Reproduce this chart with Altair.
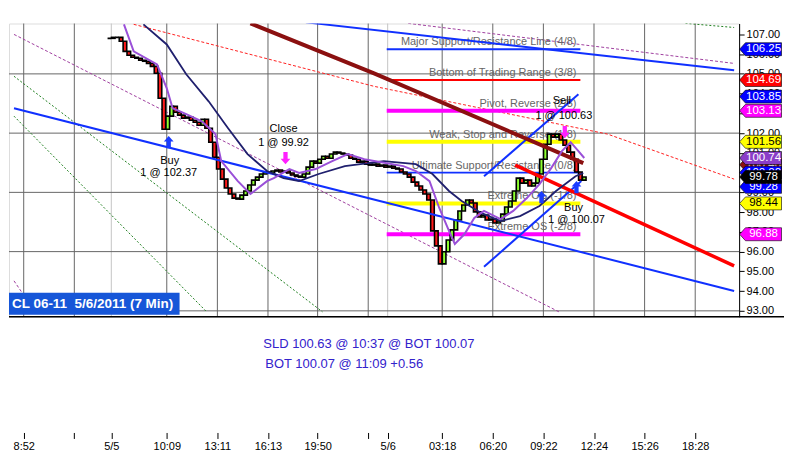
import pandas as pd
import altair as alt

# ---- price bars (7 min); bar index 24.5 is the first candle
first_bar = 24.5
closes = [
    106.80, 106.85, 106.85, 106.65, 106.14, 105.94, 105.84, 105.79, 105.69, 105.64,
    105.53, 105.38, 105.03, 103.77, 102.20, 102.86, 103.36, 103.06, 102.91, 102.76,
    102.81, 102.65, 102.55, 102.40, 102.70, 102.25, 101.54, 100.78, 100.18, 99.67,
    99.22, 98.92, 98.71, 98.66, 98.86, 99.07, 99.37, 99.62, 99.77, 99.93,
    100.03, 99.98, 100.08, 100.13, 100.03, 100.08, 99.98, 99.88, 99.82, 99.77,
    99.93, 100.28, 100.58, 100.48, 100.68, 100.83, 100.73, 100.94, 101.04, 100.99,
    100.94, 100.89, 100.73, 100.68, 100.53, 100.58, 100.43, 100.38, 100.43, 100.33,
    100.38, 100.28, 100.33, 100.23, 100.18, 100.03, 99.93, 99.77, 99.52, 99.32,
    99.12, 98.92, 98.61, 97.05, 96.29, 95.38, 95.99, 96.59, 97.10, 97.60,
    98.06, 98.36, 98.61, 98.46, 98.01, 97.75, 97.85, 97.60, 97.65, 97.45,
    97.55, 97.90, 98.26, 98.56, 99.07, 99.72, 99.47, 99.62, 99.32, 99.47,
    99.93, 100.68, 101.44, 101.95, 101.80, 101.95, 101.65, 101.39, 101.04, 100.68,
    100.03, 99.62, 99.78,
]
first_open = 106.80

# moving averages
navy_bars = [33.25, 39.25, 44.25, 50, 55, 60, 65, 69.25, 73.25, 78.25, 85, 95, 103.25,
             107.5, 111.75, 115, 120, 125, 130, 135, 139.25, 144.25, 146.25]
navy_prices = [107.51, 106.49, 104.98, 103.61, 102.25, 100.94, 100.08, 99.72, 99.57, 99.93,
               100.33, 100.58, 100.43, 99.93, 99.07, 98.56, 97.96, 97.55, 97.80, 98.31,
               99.07, 99.82, 99.98]
purple_bars = [28.25, 30.75, 36.75, 39.25, 40.75, 44.25, 48.25, 51.75, 53.25, 57.5, 60.75,
               65, 66.75, 70.75, 73.25, 77.5, 81.75, 85.75, 90, 100, 103.25, 106.75, 109.25,
               111.75, 113.25, 115.75, 118.25, 120.75, 125, 128.25, 131.75, 135, 138,
               140.75, 143, 145, 146.5]
purple_prices = [107.51, 106.14, 105.48, 104.27, 103.26, 102.96, 102.60, 101.95, 100.58, 99.57,
                 98.92, 99.57, 99.72, 100.18, 99.98, 100.18, 100.58, 100.94, 100.68, 100.33,
                 100.08, 99.57, 98.21, 97.05, 96.39, 96.89, 97.70, 98.06, 97.65, 98.06,
                 98.71, 99.42, 100.23, 101.09, 101.54, 101.09, 100.74]

# Murrey math levels
murrey_start, murrey_end = 95.75, 145.5
murrey_levels = [106.25, 104.69, 103.13, 101.56, 100.00, 98.44, 96.88]
murrey_names = ["Major Support/Resistance Line (4/8)", "Bottom of Trading Range (3/8)",
                "Pivot, Reverse (2/8)", "Weak, Stop and Reverse (1/8)",
                "Ultimate Support/Resistance (0/8)", "Extreme OS (-1/8)", "Extreme OS (-2/8)"]
murrey_colors = ["#1030ff", "#ff0000", "#ff00ff", "#ffff00", "#1030ff", "#ffff00", "#ff00ff"]
murrey_widths = [2, 2, 4, 4, 2, 4, 4]

# price tags on the right axis
tag_values = [106.25, 104.69, 103.85, 103.13, 101.56, 100.40, 100.74, 100.00, 99.28, 98.44, 96.88, 99.78]
tag_fills = ["#0000ff", "#ff0000", "#0000ff", "#ff00ff", "#ffff00", "#8b1010", "#8a3cc8",
             "#0000ff", "#0000ff", "#ffff00", "#ff00ff", "#000000"]
tag_text = ["white", "white", "white", "white", "black", "white", "white",
            "white", "white", "black", "white", "white"]

# x axis
tick_vals = [2.5, 15.5, 25, 39.25, 52.25, 65.25, 78, 91, 96, 110, 123, 136, 149, 162, 175]
tick_text = ["8:52", "", "5/5", "10:09", "13:11", "16:13", "19:50", "", "5/6",
             "03:18", "06:20", "09:22", "12:24", "15:26", "18:28"]
day_breaks = [25, 96]
price_grid = [93, 96, 99, 102, 105]

W, H = 732, 294

xscale = alt.Scale(domain=[0, 185], nice=False, zero=False)
yscale = alt.Scale(domain=[92.7, 107.55], nice=False, zero=False)
label_expr = ("[" + ",".join(f"'{t}'" for t in tick_text) + "][indexof(["
              + ",".join(str(v) for v in tick_vals) + "], datum.value)]")
xaxis = alt.Axis(values=tick_vals, labelExpr=label_expr, offset=116, domain=False, grid=False,
                 tickColor="black", tickSize=6, labelFontSize=11, labelFont="Liberation Sans",
                 labelColor="black", labelPadding=2, labelFlush=False, labelOverlap=False, title=None)
yaxis = alt.Axis(orient="right", values=list(range(93, 108)), format=".2f", grid=False,
                 labelFont="Liberation Sans", labelFontSize=11, labelColor="black",
                 tickColor="black", domainColor="black", tickSize=5, labelPadding=2, title=None)


def X(field="bar"):
    return alt.X(f"{field}:Q", scale=xscale, axis=xaxis)


def Y(field="price"):
    return alt.Y(f"{field}:Q", scale=yscale, axis=yaxis)


def line(bars, prices, color, width, dash=None):
    kw = dict(color=color, strokeWidth=width, clip=True)
    if dash:
        kw["strokeDash"] = dash
    df = pd.DataFrame({"bar": bars, "price": prices})
    return alt.Chart(df).mark_line(**kw).encode(x=X(), y=Y())


layers = []

# grid
vgrid = pd.DataFrame({"bar": tick_vals})
vgrid["col"] = ["#c4c4c4" if v in day_breaks else "#666666" for v in tick_vals]
layers.append(alt.Chart(vgrid).mark_rule(strokeWidth=1).encode(
    x=X(), y=alt.value(0), y2=alt.value(H), color=alt.Color("col:N", scale=None)))
layers.append(alt.Chart(pd.DataFrame({"price": price_grid})).mark_rule(color="#666666").encode(
    y=Y(), x=alt.value(0), x2=alt.value(W)))

# thin dashed trend lines
layers.append(line([0, 79.25], [104.88, 92.95], "#208020", 1, [2, 2]))
layers.append(line([0, 49.5], [102.86, 92.95], "#208020", 1, [2, 2]))
layers.append(line([172.5, 185], [107.56, 107.35], "#208020", 1, [2, 2]))
layers.append(line([0, 140], [107.0, 92.95], "#a040a0", 1, [3, 2]))
layers.append(line([101.25, 185], [107.56, 105.53], "#a040a0", 1, [3, 2]))
layers.append(line([0, 3.5], [94.52, 93.51], "#a040a0", 1, [3, 2]))
layers.append(line([30.75, 92.5, 152.5, 185], [107.51, 104.37, 101.95, 99.67], "#ff2020", 1, [3, 2]))

# Murrey levels and their names
for lvl, c, w in zip(murrey_levels, murrey_colors, murrey_widths):
    layers.append(line([murrey_start, murrey_end], [lvl, lvl], c, w))
mlab = pd.DataFrame({"bar": [144.5] * len(murrey_levels), "price": murrey_levels, "txt": murrey_names})
layers.append(alt.Chart(mlab).mark_text(align="right", baseline="bottom", dy=-2, fontSize=11,
                                        font="Liberation Sans", color="#666666").encode(
    x=X(), y=Y(), text="txt:N"))

# candles
opens = [first_open] + closes[:-1]
candles = pd.DataFrame({"bar": [first_bar + i for i in range(len(closes))],
                        "price": opens, "close": closes})
candles["col"] = ["#ff1a1a" if c < o else "#8cff30" for o, c in zip(opens, closes)]
layers.append(alt.Chart(candles).mark_bar(size=3.6, stroke="black", strokeWidth=1.6).encode(
    x=X(), y=Y(), y2=alt.Y2("close:Q"), fill=alt.Fill("col:N", scale=None)))

# thick trend lines and channel
layers.append(line([0, 185], [103.26, 94.01], "#1030ff", 2))
layers.append(line([75, 185], [107.61, 105.18], "#1030ff", 2))
layers.append(line([120.75, 145], [99.82, 103.97], "#1030ff", 2))
layers.append(line([120.75, 145.75], [95.23, 99.57], "#1030ff", 2))
layers.append(line([60.75, 92.5, 146.25], [107.56, 105.03, 100.48], "#8b1010", 4))
layers.append(line([128.75, 185], [100.38, 95.28], "#ff0000", 3.5))

# moving averages
layers.append(line(navy_bars, navy_prices, "#20206e", 1.8))
layers.append(line(purple_bars, purple_prices, "#9a50d8", 2))

# trade markers
up = "M 0 -1 L 0.8 -0.1 L 0.35 -0.1 L 0.35 1 L -0.35 1 L -0.35 -0.1 L -0.8 -0.1 Z"
down = "M 0 1 L 0.8 0.1 L 0.35 0.1 L 0.35 -1 L -0.35 -1 L -0.35 0.1 L -0.8 0.1 Z"
buys = pd.DataFrame({"bar": [39.75, 135.5, 144.5], "price": [101.54, 98.76, 99.27]})
sells = pd.DataFrame({"bar": [69.75, 141.5], "price": [100.73, 102.05]})
layers.append(alt.Chart(buys).mark_point(shape=up, size=150, filled=True, color="#1a3cff",
                                          opacity=1).encode(x=X(), y=Y()))
layers.append(alt.Chart(sells).mark_point(shape=down, size=150, filled=True, color="#ff20ff",
                                           opacity=1).encode(x=X(), y=Y()))

notes = pd.DataFrame({
    "bar": [40, 39.75, 69.25, 69.25, 140.75, 141.25, 143.75, 144.5],
    "price": [100.58, 99.98, 102.20, 101.49, 103.61, 102.86, 98.21, 97.60],
    "txt": ["Buy", "1 @ 102.37", "Close", "1 @ 99.92", "Sell", "1 @ 100.63", "Buy", "1 @ 100.07"],
})
layers.append(alt.Chart(notes).mark_text(fontSize=11, font="Liberation Sans", color="black").encode(
    x=X(), y=Y(), text="txt:N"))

# plot bottom border and symbol box
layers.append(alt.Chart(pd.DataFrame({"price": [0]})).mark_rule(color="black", strokeWidth=1.5).encode(
    x=alt.value(0), x2=alt.value(W + 45), y=alt.value(H)))
layers.append(alt.Chart(pd.DataFrame({"price": [0]})).mark_rect(color="#1656d8").encode(
    x=alt.value(0), x2=alt.value(171), y=alt.value(270), y2=alt.value(292)))
layers.append(alt.Chart(pd.DataFrame({"txt": ["CL 06-11 \u00a05/6/2011 (7 Min)"]})).mark_text(
    align="left", baseline="middle", fontSize=13.5, fontWeight="bold", font="Liberation Sans",
    color="white").encode(x=alt.value(3), y=alt.value(281), text="txt:N"))

# trade summary below the plot
summary = pd.DataFrame({"txt": ["SLD 100.63 @ 10:37 @ BOT 100.07", "BOT 100.07 @ 11:09 +0.56"],
                        "px": [255, 257], "py": [321, 341]})
layers.append(alt.Chart(summary).mark_text(align="left", baseline="middle", fontSize=13,
                                            font="Liberation Sans", color="#3322cc").encode(
    x=alt.X("px:Q", scale=None), y=alt.Y("py:Q", scale=None), text="txt:N"))

# right axis tags
tags = pd.DataFrame({"price": tag_values, "fill": tag_fills, "tcol": tag_text,
                     "txt": [f"{v:.2f}" for v in tag_values]})
tag_shape = "M -1 0 L -0.72 -0.31 L 1 -0.31 L 1 0.31 L -0.72 0.31 Z"
for i in range(len(tags)):
    row = tags.iloc[[i]]
    layers.append(alt.Chart(row).mark_point(shape=tag_shape, size=1764, filled=True, opacity=1,
                                            stroke="black", strokeWidth=0.6).encode(
        x=alt.value(W + 21.5), y=Y(), fill=alt.Fill("fill:N", scale=None)))
    layers.append(alt.Chart(row).mark_text(fontSize=11.5, font="Liberation Sans").encode(
        x=alt.value(W + 24.5), y=Y(), text="txt:N", color=alt.Color("tcol:N", scale=None)))

chart = alt.layer(*layers).properties(
    width=W, height=H, padding={"left": 0, "top": 14, "right": 0, "bottom": 0}
).configure_view(stroke=None).configure(background="white")

chart.save("out.html", embed_options={"renderer": "svg", "actions": False})
